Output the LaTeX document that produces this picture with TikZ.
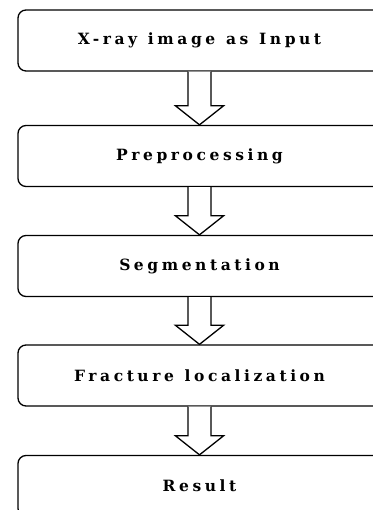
\documentclass[tikz,border=0pt]{standalone}
\usepackage{fontspec}
\setmainfont{DejaVu Serif}[LetterSpace=23,WordSpace=1.2]
\usetikzlibrary{calc}
\tikzset{
  stage/.style={draw, line width=1.3pt, rounded corners=8pt, minimum width=363pt,
    minimum height=61pt, inner sep=0pt, font=\bfseries\fontsize{15.5}{18}\selectfont},
  hollow/.style={line width=1.3pt, fill=white}
}
% fat hollow arrow from one box down to the next
\newcommand{\downarrowbox}[2]{%
  \draw[hollow] ($(#1.south)+(-11.5,0)$) -- ($(#2.north)+(-11.5,19)$)
    -- ($(#2.north)+(-24,19)$) -- (#2.north) -- ($(#2.north)+(24,19)$)
    -- ($(#2.north)+(11.5,19)$) -- ($(#1.south)+(11.5,0)$);}
\begin{document}
\begin{tikzpicture}[x=1pt,y=1pt]
  \useasboundingbox (0,0) rectangle (372,510);
  \node[stage] (input)  at (199.5,469.5) {X-ray image as Input};
  \node[stage] (prep)   at (199.5,354)   {Preprocessing};
  \node[stage] (seg)    at (199.5,244)   {Segmentation};
  \node[stage] (local)  at (199.5,134.5) {Fracture localization};
  \node[stage] (result) at (199.5,24)    {Result};
  \downarrowbox{input}{prep}
  \downarrowbox{prep}{seg}
  \downarrowbox{seg}{local}
  \downarrowbox{local}{result}
\end{tikzpicture}
\end{document}
